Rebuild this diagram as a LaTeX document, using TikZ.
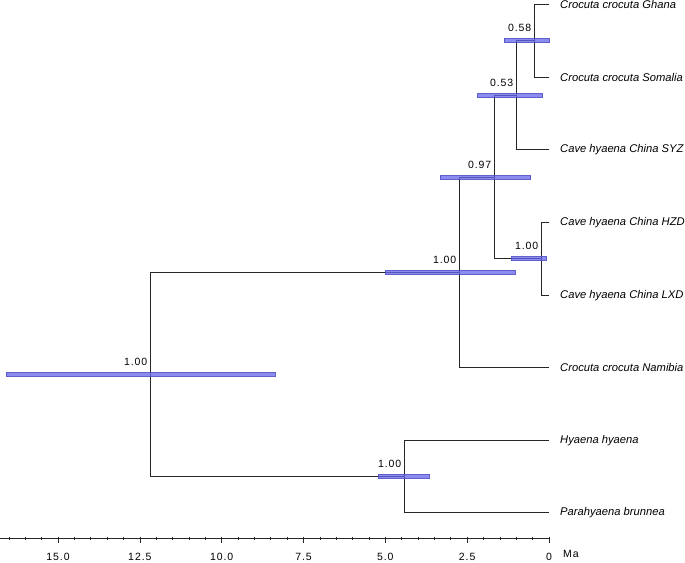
\documentclass[tikz,border=0pt]{standalone}
\usepackage{fontspec}
\setmainfont{Liberation Sans}
\newfontfamily\spacedsans[LetterSpace=9]{Liberation Sans}
\begin{document}
\begin{tikzpicture}[x=1pt,y=-1pt,
  branch/.style={draw=black!85, line width=1pt},
  hpd/.style={draw={rgb,255:red,80;green,80;blue,200}, fill={rgb,255:red,100;green,100;blue,235}, fill opacity=0.75, draw opacity=0.9, line width=0.6pt},
  leaf/.style={anchor=west, inner sep=0pt, font=\fontsize{11.2}{13}\selectfont\itshape},
  post/.style={anchor=base east, inner sep=0pt, font=\spacedsans\fontsize{10.5}{12}\selectfont},
  ticklab/.style={anchor=base, inner sep=0pt, font=\spacedsans\fontsize{10.5}{12}\selectfont}]
\useasboundingbox (0,0) rectangle (685,562);
% leaf tips
\foreach \n/\y in {ghana/4.5, somalia/77.5, syz/149.5, hzd/222.5, lxd/295.5, namibia/367.5, hyaena/440.5, para/512.5}
  \coordinate (t\n) at (549,\y);
\node[leaf] (lghana) at (560,4.5) {Crocuta crocuta Ghana};
\node[leaf] (lsomalia) at (560,77.5) {Crocuta crocuta Somalia};
\node[leaf] (lsyz) at (560,149.5) {Cave hyaena China SYZ};
\node[leaf] (lhzd) at (560,222.5) {Cave hyaena China HZD};
\node[leaf] (llxd) at (560,295.5) {Cave hyaena China LXD};
\node[leaf] (lnamibia) at (560,367.5) {Crocuta crocuta Namibia};
\node[leaf] (lhyaena) at (560,440.5) {Hyaena hyaena};
\node[leaf] (lpara) at (560,512.5) {Parahyaena brunnea};
% internal nodes
\coordinate (n058) at (534.5,40.5);
\coordinate (n053) at (516.5,95.5);
\coordinate (n097) at (494.5,177.5);
\coordinate (nhzd) at (541.5,258.5);
\coordinate (ncroc) at (459.5,272.5);
\coordinate (nhy) at (404.5,476.5);
\coordinate (nroot) at (150.5,374.5);
% branches
\draw[branch] (tghana) -| (n058) |- (tsomalia);
\draw[branch] (n058) -| (n053) |- (tsyz);
\draw[branch] (n053) -| (n097) |- (nhzd);
\draw[branch] (thzd) -| (nhzd) |- (tlxd);
\draw[branch] (n097) -| (ncroc) |- (tnamibia);
\draw[branch] (ncroc) -| (nroot) |- (nhy);
\draw[branch] (thyaena) -| (nhy) |- (tpara);
% HPD bars
\draw[hpd] (504,38.7) rectangle (549,42.3);
\draw[hpd] (477.7,93.7) rectangle (542.7,97.3);
\draw[hpd] (440,175.7) rectangle (530.7,179.3);
\draw[hpd] (511.7,256.7) rectangle (546.7,260.3);
\draw[hpd] (385,270.7) rectangle (515.3,274.3);
\draw[hpd] (6,372.7) rectangle (275,376.3);
\draw[hpd] (378.3,474.7) rectangle (429.3,478.3);
% posterior labels
\node[post] at ([shift={(-3,-9)}]n058) {0.58};
\node[post] at ([shift={(-3,-9)}]n053) {0.53};
\node[post] at ([shift={(-3,-9)}]n097) {0.97};
\node[post] at ([shift={(-3,-9)}]nhzd) {1.00};
\node[post] at ([shift={(-3,-9)}]ncroc) {1.00};
\node[post] at ([shift={(-3,-9)}]nroot) {1.00};
\node[post] at ([shift={(-3,-9)}]nhy) {1.00};
% axis
\draw[black!85, line width=0.8pt] (0,538) -- (549,538);
\foreach \i in {0,...,33}
  \draw[black!85, line width=0.7pt] ({549-32.73*0.5*\i},536.5) -- ({549-32.73*0.5*\i},540);
\foreach \t/\lab in {0/0, 2.5/2.5, 5/5.0, 7.5/7.5, 10/10.0, 12.5/12.5, 15/15.0} {
  \draw[black!85, line width=0.7pt] ({549-32.73*\t},538) -- ({549-32.73*\t},542.5);
  \node[ticklab] at ({549-32.73*\t},560.5) {\lab};
}
\node[ticklab] at (571,557) {Ma};
\end{tikzpicture}
\end{document}
